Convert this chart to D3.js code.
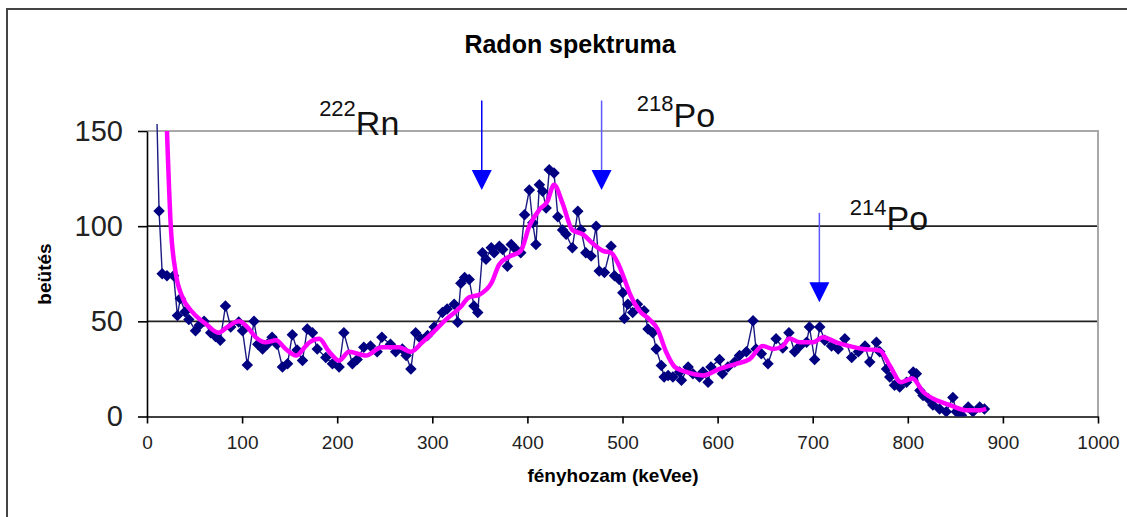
<!DOCTYPE html>
<html>
<head>
<meta charset="utf-8">
<script src="https://cdn.jsdelivr.net/npm/d3@7"></script>
<style>
    body { margin: 0; background: #fff; }
    text { font-family: "Liberation Sans", Arial, sans-serif; }
</style>
</head>
<body>
<svg id="chart" width="1127" height="517"></svg>
<script>
// measured spectrum (keVee, counts)
var energy = [7, 12.7, 16, 21, 28, 32, 35, 40, 44, 51, 55, 60, 67, 72, 77, 82.5, 88, 96.5, 100.5, 105.5,
    112.5, 116.5, 121.5, 126.5, 131.5, 136.7, 142.4, 147.8, 152.8, 157.8, 163.5, 168.5, 174, 179, 188, 195, 202, 207, 216, 221,
    228, 235, 242, 247, 256, 261.5, 268.5, 272.5, 277.5, 282.5, 288, 295, 302, 310.6, 315.6, 323, 326.7, 330, 334, 338.8,
    343.8, 347.8, 352.8, 356.5, 362, 365, 370.5, 374, 379, 383, 388, 393, 397, 402, 405.6, 409, 412.6, 416, 419.7, 423,
    428, 432, 437, 440.7, 447.3, 453, 456.4, 461.4, 467, 472.3, 475.5, 481, 488, 491.6, 496.6, 500.3, 502, 505.6, 510.7, 515.7,
    522.7, 526.8, 531.8, 535.4, 540.8, 543.8, 548, 553, 560, 562, 569, 574, 581, 584.6, 590, 593, 602, 605, 610.8, 618,
    623, 630.3, 637.3, 640.4, 646, 653, 661.5, 668.5, 675, 681, 686.6, 693.6, 696.6, 702, 707.4, 712.7, 719.8, 726.8, 733.8, 741,
    748, 755, 760, 767, 770.5, 777.6, 781, 786, 791.5, 798.7, 805.7, 809, 812.7, 816, 821.3, 826.3, 833.4, 840.4, 847.4, 851,
    856.5, 863.5, 868.5, 875.6, 880.6];
var counts = [230, 108, 75, 74, 74, 53, 62, 55, 51, 45, 48, 50, 44, 42, 40, 58, 47, 49.6, 45, 27,
    50, 38, 35.5, 38, 41.6, 38, 26, 27.7, 43, 35, 29.4, 46, 44, 35.5, 31, 27.7, 26, 44, 27.7, 30,
    36.4, 37, 34, 41.6, 38, 34, 35.5, 32, 25, 44, 40.8, 42.5, 47, 54.7, 56.5, 59, 49.5, 70, 73, 72,
    58, 54.7, 86, 82.6, 88.7, 86, 89.5, 87.8, 79, 90.4, 87.8, 86, 106, 119, 101.8, 90.4, 121.8, 118.3, 109.6, 129.6,
    127.9, 105, 98, 95.7, 88.7, 107.8, 98, 86, 84.3, 100, 76.5, 75.6, 89.5, 73.9, 72, 65, 51.5, 59, 54.7, 59,
    55.6, 46, 44, 35.5, 26.8, 20.7, 21.6, 20.7, 23.4, 19, 26, 22.5, 20.7, 23.4, 18, 26, 30, 22.5, 26, 28.6,
    32, 34, 50.3, 35.5, 33, 27.7, 40.8, 36, 44, 34, 37, 39, 47, 30, 47, 40, 37, 35.5, 40.8, 31,
    34, 37, 28.6, 39, 34, 25, 20.7, 16.4, 15.5, 18, 23.4, 22.5, 13.7, 11, 9.4, 6, 4, 2.5, 10, 2.5,
    0.7, 5, 2.5, 5, 4];

// smoothed curve (magenta)
var smoothEnergy = [21, 25, 30, 37, 48, 62, 75, 84.5, 96.5, 105.5, 114.5, 124.5, 135.7, 145.8, 156.8, 166.8, 171, 181, 191.6, 202,
    212.5, 230, 247, 265, 277.5, 289.5, 300.5, 314.6, 328.7, 338.8, 349.4, 362, 370.5, 381, 393, 402, 412.6, 421, 428, 437,
    447.3, 458.4, 468.5, 479.5, 488, 496.6, 503.6, 507.3, 517.7, 528.4, 536.8, 545.8, 555, 567, 584.6, 602, 619.6, 633.3, 647.4, 658.5,
    668.5, 675.5, 686.6, 700.6, 710.7, 724.8, 738.8, 752.9, 770.5, 781, 793, 805, 816, 830.3, 844.4, 861.5, 875.6, 882.4];
var smoothCounts = [150, 100, 76, 63, 54.7, 48.6, 44, 47, 50, 47, 41.6, 39, 40, 35.5, 32, 37, 39, 40.8, 34, 29.4,
    34, 32, 36.4, 36.4, 34, 39, 44, 51, 57, 62.6, 64, 70, 80, 84, 87, 100, 108.7, 113, 121.8, 112,
    98, 95.7, 91, 87, 86, 79, 70, 65, 55.6, 51, 46, 34, 26, 23.4, 21.6, 25, 27.7, 30, 37, 35.5,
    37, 41, 39, 39, 41.6, 39, 37, 35.5, 34.7, 26.8, 18, 20, 13, 8.5, 6, 3.3, 3.3, 4];

var xTicks = [0, 100, 200, 300, 400, 500, 600, 700, 800, 900, 1000];
var yTicks = [0, 50, 100, 150];

// peak annotations: arrow at energy, from count to count (tip)
var arrows = [
    {energy: 352, top: 166, tip: 119, line: "#0000ff"},
    {energy: 478, top: 166, tip: 119, line: "#5a5aff"},
    {energy: 707, top: 107, tip: 60, line: "#5a5aff"}
];
var isotopes = [
    {mass: "222", name: "Rn", energy: 181, count: 148, shift: -19},
    {mass: "218", name: "Po", energy: 515, count: 152, shift: -16},
    {mass: "214", name: "Po", energy: 739, count: 98, shift: -15}
];

var margin = {top: 131, left: 147},
    width = 951,
    height = 285.5;

var x = d3.scaleLinear().domain([0, 1000]).range([0, width]);
var y = d3.scaleLinear().domain([0, 150]).range([height, 0]);

var root = d3.select("#chart");

// chart area frame
root.append("rect")
    .attr("x", 7).attr("y", 9)
    .attr("width", 1200).attr("height", 600)
    .attr("fill", "none")
    .attr("stroke", "#444")
    .attr("stroke-width", 2);

root.append("text")
    .attr("x", 570).attr("y", 53)
    .attr("text-anchor", "middle")
    .style("font-size", "25px")
    .style("font-weight", "bold")
    .text("Radon spektruma");

var svg = root.append("g")
    .attr("transform", "translate(" + margin.left + "," + margin.top + ")");

svg.append("clipPath").attr("id", "plotClip")
    .append("rect")
    .attr("x", 0).attr("y", -7)
    .attr("width", width).attr("height", height + 7);

// gridlines
svg.selectAll(".grid")
    .data([50, 100])
    .enter().append("line")
    .attr("class", "grid")
    .attr("x1", 0).attr("x2", width)
    .attr("y1", function(d) { return y(d); })
    .attr("y2", function(d) { return y(d); })
    .attr("stroke", "#222")
    .attr("stroke-width", 1.6);

// plot area border (top + right)
svg.append("path")
    .attr("d", "M0," + y(150) + "H" + width + "V" + height)
    .attr("fill", "none")
    .attr("stroke", "#a8a8a8")
    .attr("stroke-width", 2);

// axes
var yAxis = svg.append("g")
    .call(d3.axisLeft(y).tickValues(yTicks).tickSize(9).tickSizeOuter(0));
yAxis.select(".domain").attr("stroke", "#000").attr("stroke-width", 1.6);
yAxis.selectAll(".tick line").attr("stroke", "#000").attr("stroke-width", 1.6);
yAxis.selectAll("text")
    .attr("x", -24)
    .style("font-size", "29px")
    .style("font-family", "'Liberation Sans', Arial, sans-serif")
    .attr("fill", "#222");

var xAxis = svg.append("g")
    .attr("transform", "translate(0," + height + ")")
    .call(d3.axisBottom(x).tickValues(xTicks).tickFormat(d3.format("d")).tickSize(7).tickSizeOuter(0));
xAxis.select(".domain").attr("stroke", "#000").attr("stroke-width", 1.6);
xAxis.selectAll(".tick line").attr("stroke", "#000").attr("stroke-width", 1.6);
xAxis.selectAll("text")
    .attr("y", 19)
    .style("font-size", "19px")
    .style("font-family", "'Liberation Sans', Arial, sans-serif")
    .attr("fill", "#222");

root.append("text")
    .attr("x", 613).attr("y", 482)
    .attr("text-anchor", "middle")
    .style("font-size", "19px")
    .style("font-weight", "bold")
    .text("fényhozam (keVee)");

root.append("text")
    .attr("transform", "translate(51,274) rotate(-90)")
    .attr("text-anchor", "middle")
    .style("font-size", "19px")
    .style("font-weight", "bold")
    .text("beütés");

// measured data
var pts = energy.map(function(e, i) { return [e, counts[i]]; });
var smooth = smoothEnergy.map(function(e, i) { return [e, smoothCounts[i]]; });

var line = d3.line()
    .x(function(d) { return x(d[0]); })
    .y(function(d) { return y(d[1]); });

var dataG = svg.append("g").attr("clip-path", "url(#plotClip)");

dataG.append("path")
    .datum(pts)
    .attr("fill", "none")
    .attr("stroke", "#1a1a80")
    .attr("stroke-width", 1.4)
    .attr("d", line);

dataG.selectAll(".pt")
    .data(pts.filter(function(d) { return d[1] <= 150; }))
    .enter().append("path")
    .attr("class", "pt")
    .attr("d", d3.symbol(d3.symbolSquare, 66))
    .attr("transform", function(d) { return "translate(" + x(d[0]) + "," + y(d[1]) + ") rotate(45)"; })
    .attr("fill", "#000080");

svg.append("path")
    .datum(smooth)
    .attr("fill", "none")
    .attr("stroke", "#ff00ff")
    .attr("stroke-width", 4.5)
    .attr("stroke-linejoin", "round")
    .attr("d", line.curve(d3.curveMonotoneX));

// arrows
arrows.forEach(function(a) {
    var ax = x(a.energy);
    svg.append("line")
        .attr("x1", ax).attr("x2", ax)
        .attr("y1", y(a.top)).attr("y2", y(a.tip) - 18)
        .attr("stroke", a.line)
        .attr("stroke-width", 1.5);
    svg.append("path")
        .attr("d", "M" + (ax - 10) + "," + (y(a.tip) - 20) + "L" + (ax + 10) + "," + (y(a.tip) - 20) + "L" + ax + "," + y(a.tip) + "Z")
        .attr("fill", "#0000ff");
});

// isotope labels
isotopes.forEach(function(p) {
    var t = svg.append("text")
        .attr("x", x(p.energy))
        .attr("y", y(p.count))
        .attr("fill", "#111");
    t.append("tspan")
        .attr("dy", p.shift)
        .style("font-size", "22px")
        .text(p.mass);
    t.append("tspan")
        .attr("dy", -p.shift)
        .style("font-size", "34px")
        .text(p.name);
});
</script>
</body>
</html>
